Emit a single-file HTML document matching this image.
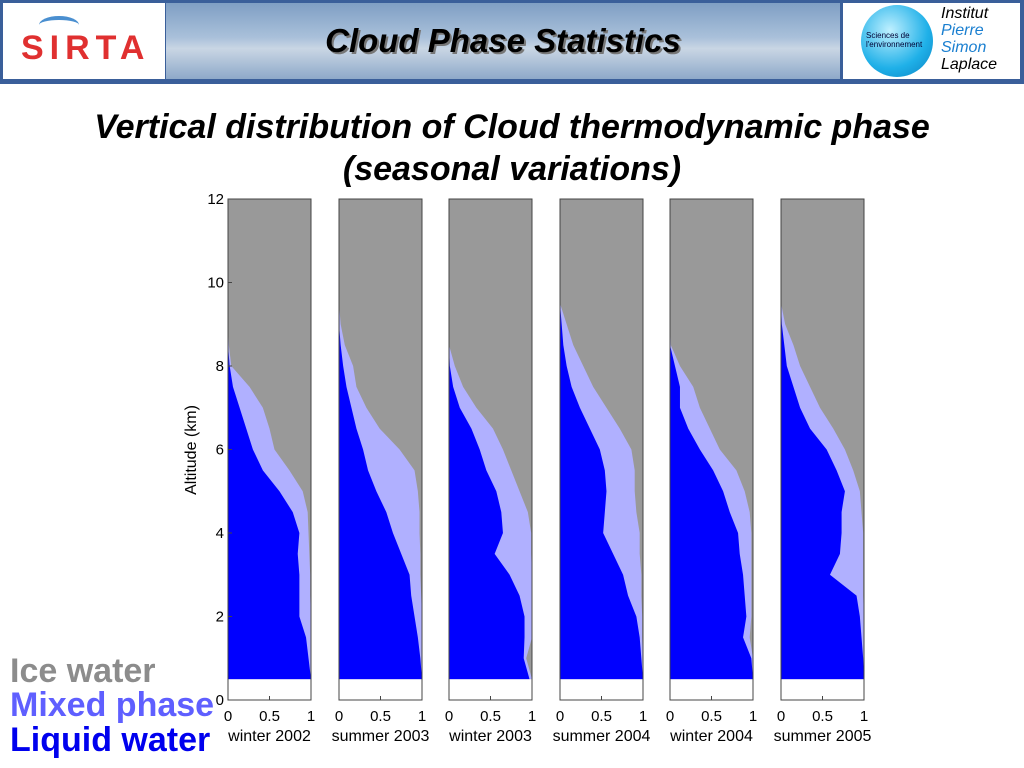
<!DOCTYPE html>
<html><head><meta charset="utf-8"><style>
body{margin:0;width:1024px;height:768px;background:#fff;overflow:hidden;font-family:"Liberation Sans",sans-serif;position:relative}
.hdr{position:absolute;left:0;top:0;width:1024px;height:84px;background:#3a5f9a}
.sky{position:absolute;left:166px;top:3px;width:674px;height:76px;background:linear-gradient(180deg,#7f9fc4 0%,#a9c0da 45%,#c9d6e4 60%,#8ea9c9 100%)}
.title{position:absolute;left:166px;width:674px;top:22px;text-align:center;font-size:33px;font-weight:bold;font-style:italic;color:#000;text-shadow:2px 2px 0 #777}
.logo{position:absolute;background:#fff}
.sub{position:absolute;left:0;width:1024px;text-align:center;font-size:34px;font-weight:bold;font-style:italic}
.leg{position:absolute;left:10px;font-size:34px;font-weight:bold}
</style></head><body>
<div class="hdr"></div>
<div class="sky"></div>
<div class="title">Cloud Phase Statistics</div>
<div class="logo" style="left:3px;top:3px;width:162px;height:76px">
<div style="position:absolute;left:18px;top:26px;font-size:34px;font-weight:bold;color:#e03030;letter-spacing:6px">SIRTA</div>
<div style="position:absolute;left:36px;top:13px;width:40px;height:14px;border-top:4px solid #4a8fd0;border-radius:50% 50% 0 0"></div></div>
<div class="logo" style="left:843px;top:3px;width:177px;height:76px">
<div style="position:absolute;left:18px;top:2px;width:72px;height:72px;border-radius:50%;background:radial-gradient(circle at 40% 35%,#bff0ff,#1fb0e8 60%,#0a80c0)"></div>
<div style="position:absolute;left:23px;top:28px;font-size:8px;color:#003;line-height:9px">Sciences de<br>l'environnement</div>
<div style="position:absolute;left:98px;top:2px;font-size:16px;font-style:italic;line-height:17px;color:#000">Institut<br><span style="color:#1a7fd0">Pierre</span><br><span style="color:#1a7fd0">Simon</span><br>Laplace</div></div>
<div class="sub" style="top:108px">Vertical distribution of Cloud thermodynamic phase</div>
<div class="sub" style="top:150px">(seasonal variations)</div>
<div class="leg" style="top:652px;color:#8c8c8c">Ice water</div>
<div class="leg" style="top:686px;color:#5f5fff">Mixed phase</div>
<div class="leg" style="top:721px;color:#0000ee">Liquid water</div>
<svg id="chart" width="1024" height="768" style="position:absolute;left:0;top:0"></svg>
<script>
const seasons=["winter 2002","summer 2003","winter 2003","summer 2004","winter 2004","summer 2005"];
const altitudes=[0.5,1,1.5,2,2.5,3,3.5,4,4.5,5,5.5,6,6.5,7,7.5,8,8.5,9,9.5];
const liquid=[
[1,0.97,0.94,0.86,0.86,0.86,0.84,0.86,0.78,0.62,0.42,0.3,0.22,0.14,0.06,0.02,0,0,0],
[1,0.98,0.95,0.91,0.87,0.85,0.75,0.65,0.57,0.45,0.35,0.29,0.21,0.15,0.09,0.05,0.02,0,0],
[0.97,0.9,0.91,0.91,0.85,0.73,0.55,0.65,0.63,0.57,0.45,0.37,0.27,0.13,0.05,0.01,0,0,0],
[1,0.98,0.96,0.92,0.82,0.76,0.64,0.52,0.54,0.56,0.54,0.48,0.36,0.24,0.14,0.08,0.04,0.02,0],
[1,0.98,0.88,0.92,0.9,0.88,0.84,0.82,0.72,0.64,0.52,0.36,0.22,0.12,0.12,0.06,0,0,0],
[1,0.99,0.97,0.95,0.91,0.59,0.71,0.73,0.73,0.77,0.67,0.55,0.35,0.23,0.15,0.07,0.04,0.01,0]];
const total=[
[1,1,1,1,0.99,0.99,0.98,0.97,0.96,0.9,0.74,0.56,0.5,0.42,0.26,0.04,0.01,0,0],
[1,1,1,1,0.99,0.98,0.98,0.97,0.97,0.95,0.91,0.73,0.49,0.33,0.21,0.17,0.07,0.02,0],
[1,0.93,1,1,1,1,0.99,0.99,0.95,0.85,0.75,0.65,0.53,0.33,0.17,0.07,0,0,0],
[1,1,0.99,0.99,0.98,0.98,0.96,0.96,0.92,0.9,0.9,0.86,0.72,0.56,0.4,0.28,0.16,0.08,0],
[1,1,0.96,0.98,0.98,0.98,0.98,0.98,0.96,0.9,0.8,0.6,0.48,0.36,0.28,0.12,0.01,0,0],
[1,1,1,1,0.99,0.99,0.99,0.99,0.97,0.95,0.87,0.77,0.63,0.47,0.35,0.23,0.15,0.05,0]];
const yTicks=[0,2,4,6,8,10,12];
const xTicks=[0,0.5,1];
const panelLeft=[228,339,449,560,670,781], PW=83;
const NS="http://www.w3.org/2000/svg", svg=document.getElementById('chart');
const yS=a=>700-a*(501/12);
function el(t,at,txt){const e=document.createElementNS(NS,t);for(const k in at)e.setAttribute(k,at[k]);if(txt!==undefined)e.textContent=txt;svg.appendChild(e);return e;}
seasons.forEach((s,i)=>{
  const x0=panelLeft[i], xS=v=>x0+v*PW;
  const g=el('rect',{x:x0,y:yS(12),width:PW,height:yS(0.5)-yS(12),fill:'#999999'});
  
  
  [[total,'#b0b0ff','mixed-area-'],[liquid,'#0000ff','liquid-area-']].forEach(([arr,c,nm])=>{
    let pts=[xS(0)+','+yS(altitudes[0])];
    altitudes.forEach((a,j)=>pts.push(xS(arr[i][j])+','+yS(a)));
    pts.push(xS(0)+','+yS(altitudes[altitudes.length-1]));
    const p=el('polygon',{points:pts.join(' '),fill:c});
    
    
  });
  const f=el('rect',{x:x0,y:yS(12),width:PW,height:yS(0)-yS(12),fill:'none',stroke:'#444','stroke-width':1});
  
  
  xTicks.forEach(v=>{
    el('line',{x1:xS(v),x2:xS(v),y1:yS(0),y2:yS(0)-4,stroke:'#444'});
    const t=el('text',{x:xS(v),y:721,'text-anchor':'middle','font-size':15,fill:'#000'},String(v));
    
    
  });
  const l=el('text',{x:x0+PW/2,y:741,'text-anchor':'middle','font-size':16,fill:'#000'},s);
  
  
});
yTicks.forEach(v=>{
  el('line',{x1:228,x2:232,y1:yS(v),y2:yS(v),stroke:'#444'});
  const t=el('text',{x:224,y:yS(v)+5,'text-anchor':'end','font-size':15,fill:'#000'},String(v));
  
  
});
const yt=el('text',{x:0,y:0,transform:'translate(196,450) rotate(-90)','text-anchor':'middle','font-size':16,fill:'#000'},'Altitude (km)');


</script>
</body></html>
